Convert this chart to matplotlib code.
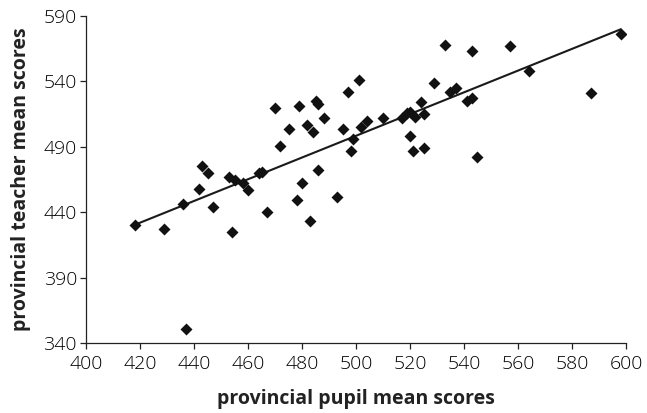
import numpy as np
import matplotlib
matplotlib.use("Agg")
import matplotlib.pyplot as plt

# provincial means: pupil score (x) vs teacher score (y)
pupil = [418, 429, 436, 437, 442, 443, 445, 447, 453, 455, 454, 458, 460,
         464, 465, 467, 478, 480, 483, 486, 493, 472, 475, 470, 479, 482,
         484, 485, 486, 488, 497, 501, 495, 499, 498, 502, 504, 510, 517,
         519, 520, 522, 524, 525, 529, 520, 521, 525, 535, 533, 543, 557,
         537, 541, 543, 545, 564, 587, 598]
teacher = [430, 427, 446, 351, 458, 475, 470, 444, 467, 465, 425, 462, 457,
           470, 471, 440, 449, 462, 433, 472, 452, 491, 504, 520, 521, 507,
           501, 525, 523, 512, 532, 541, 504, 496, 487, 505, 510, 512, 512,
           516, 517, 513, 524, 515, 539, 498, 487, 489, 532, 568, 563, 567,
           535, 525, 527, 482, 548, 531, 576]

x = np.array(pupil, dtype=float)
y = np.array(teacher, dtype=float)
slope, icpt = np.polyfit(x, y, 1)
xl = np.array([x.min(), x.max()])

plt.rcParams["font.family"] = ["Open Sans", "DejaVu Sans"]
ink = "#222222"

fig = plt.figure(figsize=(6.47, 4.13), dpi=100)
ax = fig.add_axes([0.133, 0.1695, 0.8345, 0.7915])

ax.plot(xl, icpt + slope * xl, color="#1a1a1a", lw=1.5, zorder=2)
ax.plot(x, y, ls="none", marker="D", ms=6.3, color="#111111", mec="none", zorder=3)

ax.set_xlim(400, 600)
ax.set_ylim(340, 590)
ax.set_xticks(np.arange(400, 601, 20))
ax.set_yticks(np.arange(340, 591, 50))
ax.tick_params(direction="out", length=4.5, width=0.9, labelsize=14,
               colors=ink, labelcolor="#000000")
ax.tick_params(axis="x", pad=4)
ax.tick_params(axis="y", pad=2)
for lab in ax.get_xticklabels() + ax.get_yticklabels():
    lab.set_fontweight("light")
for s in ("top", "right"):
    ax.spines[s].set_visible(False)
for s in ("left", "bottom"):
    ax.spines[s].set_linewidth(0.9)
    ax.spines[s].set_color(ink)

ax.set_xlabel("provincial pupil mean scores", fontsize=14, fontweight="bold",
              color=ink, labelpad=12)
ax.set_ylabel("provincial teacher mean scores", fontsize=14, fontweight="bold",
              color=ink, labelpad=9)

fig.savefig("out.png", dpi=100)
